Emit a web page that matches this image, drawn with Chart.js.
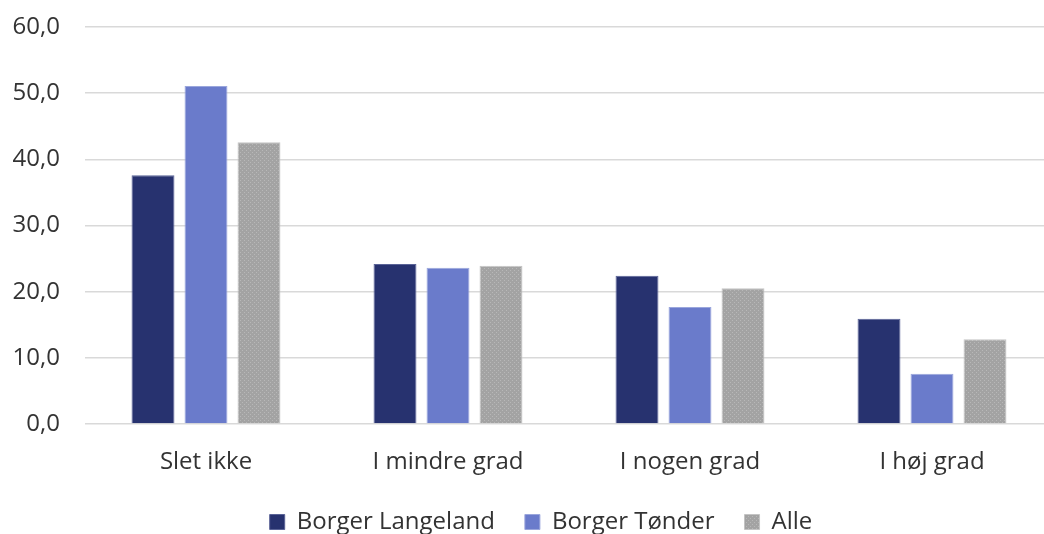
<!DOCTYPE html>
<html>
<head>
<meta charset="utf-8">
<script src="https://cdn.jsdelivr.net/npm/chart.js@4.4.1/dist/chart.umd.min.js"></script>
<style>
  html, body { margin: 0; padding: 0; background: #fff; overflow: hidden; }
  #wrap { width: 1044px; height: 534px; overflow: hidden; }
</style>
</head>
<body>
<div id="wrap"><canvas id="chart" width="1082" height="534"></canvas></div>
<script>
const categories = ['Slet ikke', 'I mindre grad', 'I nogen grad', 'I høj grad'];
const seriesNames = ['Borger Langeland', 'Borger Tønder', 'Alle'];
const langeland = [37.6, 24.2, 22.4, 15.9];
const tonder = [51.1, 23.6, 17.7, 7.6];
const alle = [42.6, 23.9, 20.5, 12.8];

// dotted grey fill like the original "Alle" bars
function dotPattern() {
    const c = document.createElement('canvas');
    c.width = 4;
    c.height = 4;
    const g = c.getContext('2d');
    g.fillStyle = '#a3a3a3';
    g.fillRect(0, 0, 4, 4);
    g.fillStyle = '#b8b8b8';
    g.fillRect(0, 0, 1, 1);
    g.fillRect(2, 2, 1, 1);
    return g.createPattern(c, 'repeat');
}

// legend: keep the wide gaps between items but make the box shorter,
// and nudge it right like in the original
const legendTweak = {
    id: 'legendTweak',
    beforeLayout(chart) {
        const lg = chart.legend;
        if (lg && !lg._tweaked) {
            const fit = lg.fit;
            lg.fit = function() {
                fit.call(this);
                this.height = 57;
            };
            lg._tweaked = true;
        }
    },
    afterLayout(chart) {
        chart.legend.left += 29;
        chart.legend.top += 3;
    }
};

Chart.defaults.font.family = '"Open Sans", Lato, sans-serif';
Chart.defaults.font.size = 24;
Chart.defaults.color = '#333333';

const ctx = document.getElementById('chart').getContext('2d');
new Chart(ctx, {
    type: 'bar',
    data: {
        labels: categories,
        datasets: [{
            label: seriesNames[0],
            data: langeland,
            backgroundColor: '#27326f',
            borderColor: '#5a6397',
            borderWidth: 1
        }, {
            label: seriesNames[1],
            data: tonder,
            backgroundColor: '#6a7bcb',
            borderColor: '#9aa6dc',
            borderWidth: 1
        }, {
            label: seriesNames[2],
            data: alle,
            backgroundColor: dotPattern(),
            borderColor: '#c4c4c4',
            borderWidth: 1
        }]
    },
    options: {
        responsive: false,
        animation: false,
        barPercentage: 0.81,
        categoryPercentage: 0.657,
        layout: {
            autoPadding: false,
            padding: { left: 0, right: 29, top: 27, bottom: 0 }
        },
        plugins: {
            legend: {
                position: 'bottom',
                labels: {
                    boxWidth: 15,
                    boxHeight: 15,
                    padding: 30
                }
            },
            tooltip: { enabled: false }
        },
        scales: {
            x: {
                grid: { display: false, drawTicks: false },
                border: { display: false },
                ticks: { padding: 24 },
                afterFit: scale => { scale.height = 53; }
            },
            y: {
                min: 0,
                max: 60,
                ticks: {
                    stepSize: 10,
                    padding: 25,
                    callback: v => v.toFixed(1).replace('.', ',')
                },
                grid: { color: '#d9d9d9', lineWidth: 1.5, drawTicks: false },
                border: { display: false },
                afterFit: scale => {
                    scale.width = 85;
                    scale.paddingTop = 0;
                    scale.paddingBottom = 0;
                }
            }
        }
    },
    plugins: [legendTweak]
});
</script>
</body>
</html>
